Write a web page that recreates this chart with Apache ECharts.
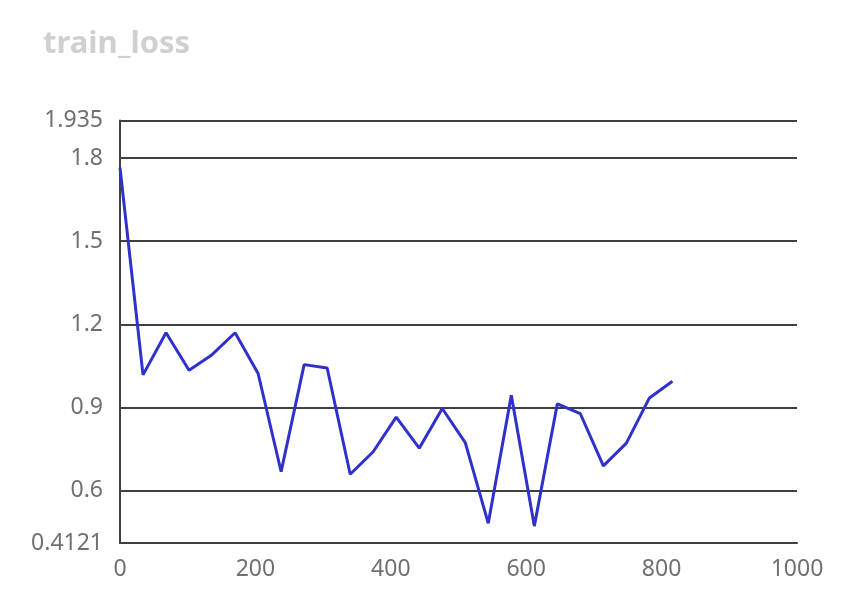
<!DOCTYPE html>
<html>
<head>
<meta charset="utf-8">
<script src="https://cdn.jsdelivr.net/npm/echarts@6/dist/echarts.min.js"></script>
<style>
  html, body { margin: 0; padding: 0; background: #fff; }
  #chart_box { width: 856px; height: 602px; }
</style>
</head>
<body>
<div id="chart_box"></div>
<script>
// training step (x) and loss (y)
var steps = [0, 34, 68, 102, 136, 170, 204, 238, 272, 306, 340, 374, 408,
             442, 476, 510, 544, 578, 612, 646, 680, 714, 748, 782, 816];
var trainLoss = [1.765, 1.018, 1.170, 1.035, 1.091, 1.170, 1.023, 0.669, 1.055, 1.043,
                 0.660, 0.741, 0.866, 0.754, 0.897, 0.774, 0.483, 0.945, 0.473, 0.914,
                 0.878, 0.690, 0.772, 0.935, 0.995];
var yMin = 0.4121;
var yMax = 1.935;

var points = [];
for (var i = 0; i < steps.length; i++) {
  points.push([steps[i], trainLoss[i]]);
}

var myEcharts = echarts.init(document.getElementById('chart_box'));
var labelFont = 'Noto Sans';
myEcharts.setOption({
  animation: false,
  title: {
    text: 'train_loss',
    left: 38,
    top: 24,
    textStyle: { color: '#d0d0d0', fontSize: 31, fontWeight: 'bold', fontFamily: labelFont }
  },
  grid: { left: 120, right: 59, top: 120.5, bottom: 59 },
  xAxis: {
    type: 'value',
    min: 0,
    max: 1000,
    interval: 200,
    axisLine: { show: true, lineStyle: { color: '#404040', width: 2 } },
    axisTick: { show: false },
    axisLabel: {
      color: '#707070', fontSize: 23, fontFamily: labelFont, margin: 15,
      formatter: function (v) { return String(v); }
    },
    splitLine: { show: false }
  },
  yAxis: {
    type: 'value',
    min: yMin,
    max: yMax,
    axisLine: { show: true, lineStyle: { color: '#404040', width: 2 } },
    axisTick: { show: false },
    axisLabel: { color: '#707070', fontSize: 23, fontFamily: labelFont, margin: 17 },
    splitLine: { show: true, lineStyle: { color: '#404040', width: 2 } }
  },
  series: [{
    type: 'line',
    data: points,
    showSymbol: false,
    symbol: 'none',
    lineStyle: { color: '#3030cc', width: 3 }
  }]
});
</script>
</body>
</html>
